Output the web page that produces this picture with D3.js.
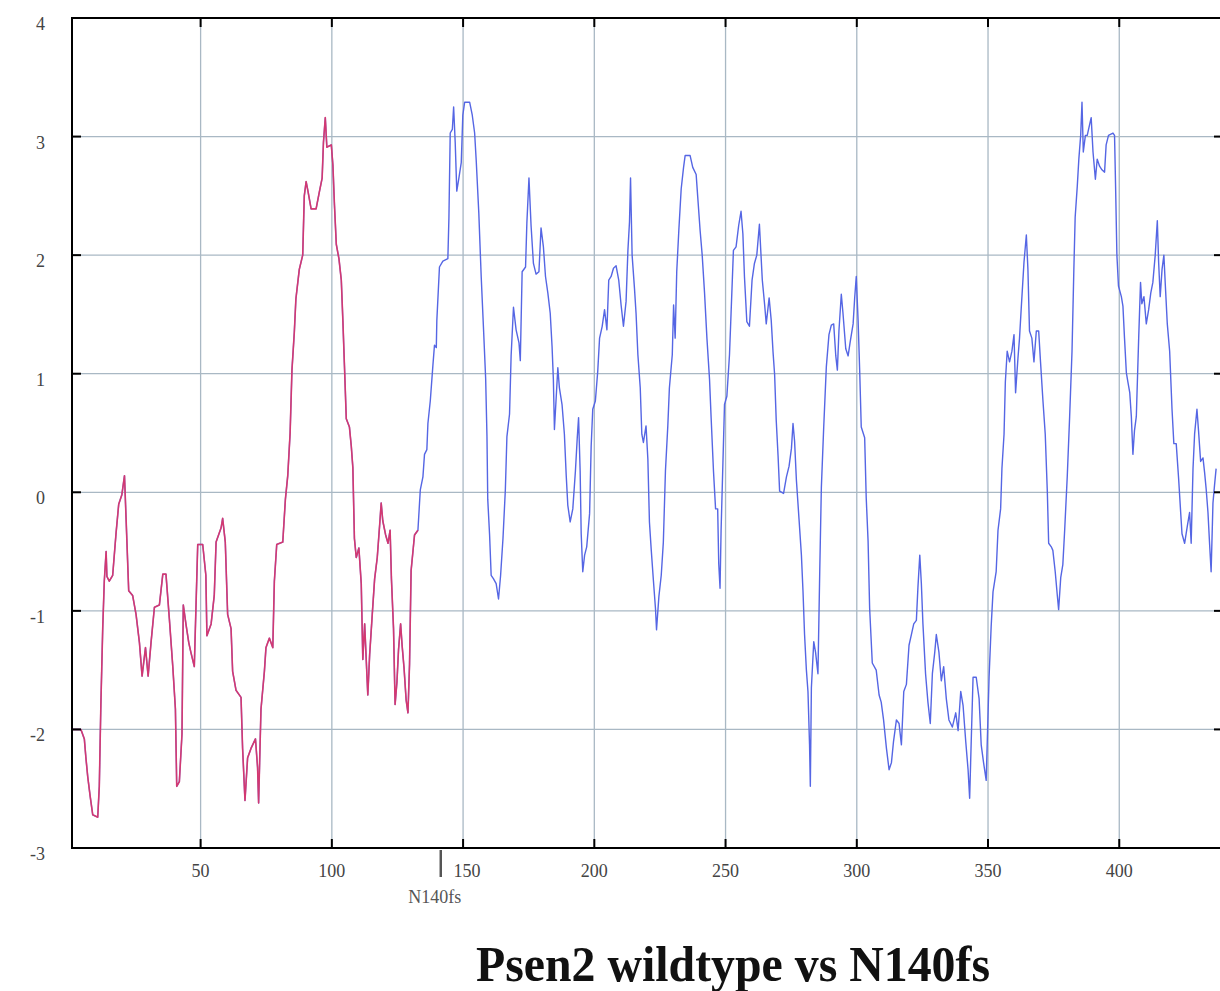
<!DOCTYPE html>
<html>
<head>
<meta charset="utf-8">
<script src="https://cdn.jsdelivr.net/npm/d3@7/dist/d3.min.js"></script>
<style>
body { margin: 0; background: #fff; }
#chart { width: 1220px; height: 991px; }
</style>
</head>
<body>
<div id="chart"></div>
<script>
// residue, hydropathy value
var wildtype = [
    [1,-2.0],[4.4,-2.0],[5.7,-2.08],[6.3,-2.24],[7,-2.4],[7.9,-2.56],[8.9,-2.72],[10.8,-2.74],[11.4,-2.48],[12,-1.79],
    [12.7,-1.15],[13.3,-0.75],[14,-0.5],[14.3,-0.71],[15.2,-0.75],[16.5,-0.7],[17.8,-0.34],[18.8,-0.1],[20,-0.02],[21,0.14],
    [21.6,-0.22],[22.6,-0.83],[24.1,-0.87],[25.4,-1.03],[26.7,-1.27],[27.7,-1.55],[29,-1.31],[30,-1.55],[31.1,-1.27],[32.4,-0.97],
    [34.3,-0.95],[35.6,-0.69],[36.8,-0.69],[38.1,-1.07],[39.4,-1.47],[40.4,-1.83],[40.9,-2.48],[41.9,-2.44],[42.9,-2.04],[43.4,-0.95],
    [44.4,-1.11],[45.5,-1.27],[46.3,-1.35],[47.6,-1.47],[48.9,-0.44],[50.8,-0.44],[52,-0.7],[52.4,-1.21],[54,-1.11],[55.2,-0.87],
    [55.9,-0.42],[57.8,-0.3],[58.4,-0.22],[59.4,-0.42],[60.3,-1.03],[61.6,-1.15],[62.2,-1.51],[63.5,-1.67],[65.4,-1.73],[66,-2.16],
    [66.9,-2.6],[67.9,-2.24],[69.2,-2.16],[70.9,-2.08],[71.7,-2.32],[72.1,-2.62],[73,-1.83],[74.3,-1.51],[74.9,-1.31],[76.2,-1.23],
    [77.5,-1.31],[78.1,-0.75],[79,-0.44],[81.3,-0.42],[82.3,-0.06],[83.2,0.14],[84.1,0.5],[84.8,1.03],[85.7,1.35],[86.3,1.63],
    [87.6,1.88],[88.9,2.0],[89.5,2.5],[90.2,2.62],[90.9,2.54],[92.1,2.39],[94,2.39],[95.3,2.54],[96.3,2.65],[96.8,2.95],
    [97.5,3.16],[98.1,2.91],[99.8,2.93],[100.4,2.76],[101,2.42],[101.7,2.09],[102.7,1.97],[103.6,1.79],[104.2,1.45],[104.8,1.07],
    [105.5,0.62],[106.7,0.55],[107.4,0.39],[108,0.21],[108.6,-0.39],[109.3,-0.55],[110.3,-0.47],[111.2,-0.77],[111.8,-1.41],[112.5,-1.11],
    [113.7,-1.71],[114.4,-1.37],[115.4,-1.03],[116.3,-0.73],[117.3,-0.55],[118.2,-0.28],[118.8,-0.09],[119.4,-0.24],[120.5,-0.36],[121.4,-0.43],
    [122.2,-0.32],[122.7,-0.73],[123.5,-1.15],[124.1,-1.79],[124.8,-1.6],[125.4,-1.33],[126.2,-1.11],[126.8,-1.3],[127.5,-1.48],[128.3,-1.75],
    [129,-1.86],[129.6,-1.45],[130.2,-0.66],[131.5,-0.36],[132.8,-0.32],[133.7,0.02],[134.7,0.13],[135.3,0.32],[136.2,0.36],[136.6,0.58],
    [137.5,0.77],[138.5,1.07],[139.1,1.24],[139.8,1.22],[140,1.45],[141,1.9],[142.3,1.95],[144.2,1.97],[144.6,2.31],[145.1,3.03],
    [145.9,3.06],[146.4,3.25],[147,2.95],[147.6,2.54],[148.4,2.65],[149.3,2.78],[149.9,3.18],[150.6,3.29],[152.5,3.29],[153.5,3.18],
    [154.4,3.03],[155,2.8],[156,2.35],[156.9,1.82],[157.8,1.37],[158.6,0.96],[159.1,0.47],[159.4,-0.06],[160.1,-0.36],[160.7,-0.7],
    [161.6,-0.73],[162.6,-0.77],[163.5,-0.9],[164.3,-0.7],[165.2,-0.39],[166.1,0.02],[166.7,0.47],[167.7,0.66],[168.3,1.15],[169.2,1.56],
    [170.2,1.37],[171.3,1.26],[171.8,1.11],[172.5,1.86],[173.8,1.9],[174.3,2.27],[175.1,2.65],[175.9,2.25],[176.8,1.93],[177.8,1.84],
    [178.9,1.86],[179.7,2.23],[180.6,2.07],[181.4,1.82],[182.3,1.68],[183.2,1.51],[183.9,1.23],[184.4,0.95],[184.8,0.53],[185.5,0.81],
    [186.1,1.05],[186.7,0.88],[187.7,0.74],[188.6,0.49],[189.3,0.14],[189.9,-0.11],[190.8,-0.25],[191.8,-0.14],[192.8,0.18],[193.5,0.46],
    [194,0.63],[194.6,0.18],[195,-0.35],[195.6,-0.67],[196.3,-0.53],[197.1,-0.46],[198.2,-0.18],[198.8,0.39],[199.4,0.7],[200.4,0.77],
    [201.3,1.02],[202,1.3],[203,1.4],[203.9,1.54],[204.8,1.37],[205.5,1.79],[206.4,1.82],[207.3,1.89],[208.3,1.91],[209.3,1.79],
    [210.2,1.58],[211.1,1.4],[212.1,1.61],[212.8,2.04],[213.4,2.28],[213.8,2.65],[214.4,2.0],[215.3,1.72],[215.9,1.51],[216.6,1.16],
    [217.5,0.88],[218.1,0.49],[218.7,0.42],[219.7,0.56],[220.4,0.28],[221,-0.25],[221.7,-0.49],[222.5,-0.74],[223.3,-0.98],[223.7,-1.16],
    [224.6,-0.88],[225.5,-0.7],[226.3,-0.42],[227.1,0.18],[228,0.56],[228.6,0.88],[229.7,1.16],[230.2,1.58],[230.8,1.3],[231.4,1.86],
    [232.2,2.21],[233.1,2.56],[234,2.74],[234.6,2.84],[236.5,2.84],[237.5,2.74],[238.8,2.68],[239.4,2.49],[240.3,2.21],[241.1,2.0],
    [242,1.68],[242.9,1.3],[243.9,0.95],[244.5,0.63],[245.4,0.18],[246.2,-0.14],[247,-0.14],[247.4,-0.6],[247.9,-0.81],[248.3,-0.32],
    [249,0.25],[249.6,0.74],[250.5,0.81],[251.5,1.16],[252.1,1.51],[253,2.04],[254,2.07],[255,2.25],[255.9,2.37],[256.6,2.18],
    [257.2,1.82],[258.1,1.44],[259.1,1.4],[260.1,1.79],[261,1.93],[261.9,2.0],[262.9,2.26],[264,1.79],[264.9,1.58],[265.5,1.42],
    [266.6,1.64],[267.4,1.45],[268.1,1.18],[268.7,0.99],[269.3,0.61],[270,0.31],[270.6,0.01],[272.1,-0.01],[273.2,0.13],[274.2,0.22],
    [275.1,0.37],[275.7,0.58],[276.3,0.43],[277,0.1],[278,-0.23],[278.9,-0.53],[279.5,-0.83],[280.1,-1.2],[280.8,-1.5],[281.4,-1.68],
    [282,-2.13],[282.3,-2.48],[282.7,-1.65],[283.6,-1.26],[284.3,-1.35],[285.2,-1.53],[285.9,-0.65],[286.5,0.04],[287.4,0.55],[288.4,1.06],
    [289.4,1.33],[290.3,1.41],[291.2,1.42],[292,1.15],[292.6,1.03],[293.2,1.36],[294.1,1.67],[294.7,1.52],[295.8,1.21],[296.7,1.15],
    [297.5,1.27],[298.6,1.42],[299.2,1.64],[299.8,1.82],[300.5,1.45],[301.1,1.03],[301.7,0.55],[303,0.46],[303.6,-0.05],[304.3,-0.41],
    [304.9,-0.98],[305.9,-1.44],[307.4,-1.5],[308.5,-1.71],[309.3,-1.77],[310.2,-1.92],[311.3,-2.16],[312.3,-2.34],[313.2,-2.28],[314,-2.1],
    [315.1,-1.92],[316.1,-1.95],[317,-2.13],[317.9,-1.68],[318.9,-1.62],[319.9,-1.29],[320.8,-1.2],[321.7,-1.11],[322.7,-1.08],[323.3,-0.8],
    [324,-0.53],[324.6,-0.77],[325.2,-1.11],[326.2,-1.53],[327.1,-1.77],[328,-1.95],[328.8,-1.53],[329.7,-1.35],[330.3,-1.2],[331.3,-1.35],
    [332.2,-1.59],[333.1,-1.47],[334.1,-1.74],[335.1,-1.92],[336.4,-1.98],[337.7,-1.86],[338.6,-2.01],[339.6,-1.68],[340.5,-1.8],[341.5,-2.1],
    [342.4,-2.34],[343,-2.58],[343.6,-2.1],[344.3,-1.56],[345.5,-1.56],[346.6,-1.74],[347.4,-2.13],[348.3,-2.28],[349.3,-2.43],[350.4,-1.56],
    [351.2,-1.13],[351.9,-0.84],[353.1,-0.67],[353.8,-0.32],[354.8,-0.14],[355.3,0.2],[356.1,0.49],[356.6,0.93],[357.3,1.19],[358.2,1.1],
    [359.1,1.19],[359.9,1.33],[360.5,0.84],[361.4,1.13],[362,1.3],[362.7,1.57],[363.7,1.94],[364.6,2.17],[365.2,1.88],[365.8,1.36],
    [366.7,1.3],[367.5,1.1],[368.4,1.36],[369.3,1.36],[370,1.1],[370.9,0.78],[371.8,0.49],[372.6,0],[373.1,-0.43],[374.1,-0.46],
    [374.7,-0.49],[375.6,-0.67],[376.4,-0.87],[376.9,-0.99],[377.7,-0.72],[378.5,-0.61],[379.2,-0.32],[380.2,0.14],[381.1,0.64],[382,1.19],
    [382.7,1.88],[383.2,2.32],[384,2.58],[384.6,2.81],[385.3,3.01],[385.8,3.29],[386.3,2.87],[387.1,3.01],[387.8,3.01],[388.7,3.1],
    [389.3,3.16],[390,2.87],[390.9,2.64],[391.6,2.81],[392.5,2.75],[393.4,2.72],[394.4,2.7],[395,2.93],[395.9,3.01],[397.6,3.03],
    [398.2,3.01],[398.6,2.58],[399.1,2.0],[399.7,1.74],[400.8,1.65],[401.4,1.57],[402,1.3],[402.7,1.01],[403.3,0.93],[404,0.84],
    [404.6,0.64],[405.2,0.32],[405.8,0.52],[406.5,0.64],[407.4,1.3],[408.1,1.77],[408.6,1.59],[409.4,1.65],[410.3,1.42],[411.2,1.54],
    [412,1.68],[412.8,1.77],[413.7,2.0],[414.5,2.29],[415,1.94],[415.6,1.65],[416.3,1.88],[417,2.0],[417.5,1.77],[418.3,1.42],
    [419.2,1.19],[420.1,0.7],[420.8,0.41],[421.7,0.41],[422.6,0.12],[423.4,-0.17],[423.9,-0.35],[424.9,-0.43],[425.9,-0.29],[426.8,-0.17],
    [427.4,-0.43],[428.1,0.2],[428.7,0.49],[429.6,0.7],[430.2,0.52],[431,0.26],[431.9,0.29],[432.5,0.17],[433.1,0.03],[433.8,-0.17],
    [434.4,-0.43],[435,-0.67],[435.7,-0.09],[436.3,0.06],[436.9,0.2]
];

// mutant trace, overlaps wildtype until the frameshift window
var n140fs = [
    [1,-2.0],[4.4,-2.0],[5.7,-2.08],[6.3,-2.24],[7,-2.4],[7.9,-2.56],[8.9,-2.72],[10.8,-2.74],[11.4,-2.48],[12,-1.79],
    [12.7,-1.15],[13.3,-0.75],[14,-0.5],[14.3,-0.71],[15.2,-0.75],[16.5,-0.7],[17.8,-0.34],[18.8,-0.1],[20,-0.02],[21,0.14],
    [21.6,-0.22],[22.6,-0.83],[24.1,-0.87],[25.4,-1.03],[26.7,-1.27],[27.7,-1.55],[29,-1.31],[30,-1.55],[31.1,-1.27],[32.4,-0.97],
    [34.3,-0.95],[35.6,-0.69],[36.8,-0.69],[38.1,-1.07],[39.4,-1.47],[40.4,-1.83],[40.9,-2.48],[41.9,-2.44],[42.9,-2.04],[43.4,-0.95],
    [44.4,-1.11],[45.5,-1.27],[46.3,-1.35],[47.6,-1.47],[48.9,-0.44],[50.8,-0.44],[52,-0.7],[52.4,-1.21],[54,-1.11],[55.2,-0.87],
    [55.9,-0.42],[57.8,-0.3],[58.4,-0.22],[59.4,-0.42],[60.3,-1.03],[61.6,-1.15],[62.2,-1.51],[63.5,-1.67],[65.4,-1.73],[66,-2.16],
    [66.9,-2.6],[67.9,-2.24],[69.2,-2.16],[70.9,-2.08],[71.7,-2.32],[72.1,-2.62],[73,-1.83],[74.3,-1.51],[74.9,-1.31],[76.2,-1.23],
    [77.5,-1.31],[78.1,-0.75],[79,-0.44],[81.3,-0.42],[82.3,-0.06],[83.2,0.14],[84.1,0.5],[84.8,1.03],[85.7,1.35],[86.3,1.63],
    [87.6,1.88],[88.9,2.0],[89.5,2.5],[90.2,2.62],[90.9,2.54],[92.1,2.39],[94,2.39],[95.3,2.54],[96.3,2.65],[96.8,2.95],
    [97.5,3.16],[98.1,2.91],[99.8,2.93],[100.4,2.76],[101,2.42],[101.7,2.09],[102.7,1.97],[103.6,1.79],[104.2,1.45],[104.8,1.07],
    [105.5,0.62],[106.7,0.55],[107.4,0.39],[108,0.21],[108.6,-0.39],[109.3,-0.55],[110.3,-0.47],[111.2,-0.77],[111.8,-1.41],[112.5,-1.11],
    [113.7,-1.71],[114.4,-1.37],[115.4,-1.03],[116.3,-0.73],[117.3,-0.55],[118.2,-0.28],[118.8,-0.09],[119.4,-0.24],[120.5,-0.36],[121.4,-0.43],
    [122.2,-0.32],[122.7,-0.73],[123.5,-1.15],[124.1,-1.79],[124.8,-1.6],[125.4,-1.33],[126.2,-1.11],[126.8,-1.3],[127.5,-1.48],[128.3,-1.75],
    [129,-1.86],[129.6,-1.45],[130.2,-0.66],[131.5,-0.36],[132.8,-0.32]
];

var xTicks = [50, 100, 150, 200, 250, 300, 350, 400];
var yTicks = [-3, -2, -1, 0, 1, 2, 3, 4];
var mutationSite = 141.5;
var mutationLabel = 'N140fs';
var title = 'Psen2 wildtype vs N140fs';

(function() {
    var width = 1220, height = 991;
    var pad = {left: 72, right: 1219, top: 18, bottom: 848};
    var serif = '"Liberation Serif", "Times New Roman", serif';

    var svg = d3.select('#chart').append('svg')
	.attr('width', width)
	.attr('height', height);

    var x = d3.scaleLinear().domain([1, 438]).range([pad.left, pad.right]);
    var y = d3.scaleLinear().domain([-3, 4]).range([pad.bottom, pad.top]);

    svg.append('defs').append('clipPath')
	.attr('id', 'plot-clip')
      .append('rect')
	.attr('x', pad.left)
	.attr('y', pad.top)
	.attr('width', width - pad.left)
	.attr('height', pad.bottom - pad.top);

    // grid
    var grid = svg.append('g').attr('class', 'grid');
    grid.selectAll('line.gx')
	.data(xTicks)
      .enter().append('line')
	.attr('class', 'gx')
	.attr('x1', function(d) { return x(d); })
	.attr('x2', function(d) { return x(d); })
	.attr('y1', pad.top)
	.attr('y2', pad.bottom)
	.attr('stroke', '#a9b8c4')
	.attr('stroke-width', 1.3);
    grid.selectAll('line.gy')
	.data(yTicks.filter(function(d) { return d > -3 && d < 4; }))
      .enter().append('line')
	.attr('class', 'gy')
	.attr('x1', pad.left)
	.attr('x2', width)
	.attr('y1', function(d) { return y(d); })
	.attr('y2', function(d) { return y(d); })
	.attr('stroke', '#a9b8c4')
	.attr('stroke-width', 1.3);

    // traces
    var line = d3.line()
	.x(function(d) { return x(d[0]); })
	.y(function(d) { return y(d[1]); });

    var traces = svg.append('g').attr('clip-path', 'url(#plot-clip)');
    traces.append('path')
	.datum(wildtype)
	.attr('d', line)
	.attr('fill', 'none')
	.attr('stroke', '#5566e4')
	.attr('stroke-width', 1.4)
	.attr('stroke-linejoin', 'round');
    traces.append('path')
	.datum(n140fs)
	.attr('d', line)
	.attr('fill', 'none')
	.attr('stroke', '#e8305e')
	.attr('stroke-opacity', 0.85)
	.attr('stroke-width', 1.6)
	.attr('stroke-linejoin', 'round');

    // frame and ticks
    var frame = svg.append('g').attr('class', 'frame');
    frame.append('path')
	.attr('d', 'M' + (width + 2) + ',' + pad.top + 'H' + pad.left + 'V' + pad.bottom + 'H' + (width + 2))
	.attr('fill', 'none')
	.attr('stroke', '#000')
	.attr('stroke-width', 2);

    var tickLen = 9;
    frame.selectAll('line.tt')
	.data(xTicks)
      .enter().append('line')
	.attr('class', 'tt')
	.attr('x1', function(d) { return x(d); })
	.attr('x2', function(d) { return x(d); })
	.attr('y1', pad.top)
	.attr('y2', pad.top + tickLen)
	.attr('stroke', '#000')
	.attr('stroke-width', 2);
    frame.selectAll('line.tb')
	.data(xTicks)
      .enter().append('line')
	.attr('class', 'tb')
	.attr('x1', function(d) { return x(d); })
	.attr('x2', function(d) { return x(d); })
	.attr('y1', pad.bottom)
	.attr('y2', pad.bottom - tickLen)
	.attr('stroke', '#000')
	.attr('stroke-width', 2);
    frame.selectAll('line.tl')
	.data(yTicks)
      .enter().append('line')
	.attr('class', 'tl')
	.attr('x1', pad.left)
	.attr('x2', pad.left + tickLen)
	.attr('y1', function(d) { return y(d); })
	.attr('y2', function(d) { return y(d); })
	.attr('stroke', '#000')
	.attr('stroke-width', 2);
    frame.selectAll('line.tr')
	.data(yTicks)
      .enter().append('line')
	.attr('class', 'tr')
	.attr('x1', width)
	.attr('x2', width - 6)
	.attr('y1', function(d) { return y(d); })
	.attr('y2', function(d) { return y(d); })
	.attr('stroke', '#000')
	.attr('stroke-width', 2);

    // tick labels
    svg.append('g').selectAll('text')
	.data(yTicks)
      .enter().append('text')
	.attr('x', 45)
	.attr('y', function(d) { return y(d) + 12; })
	.attr('text-anchor', 'end')
	.attr('font-family', serif)
	.attr('font-size', 18)
	.attr('fill', '#444')
	.text(function(d) { return d; });

    svg.append('g').selectAll('text')
	.data(xTicks)
      .enter().append('text')
	.attr('x', function(d) { return x(d) + (d === 150 ? 4 : 0); })
	.attr('y', pad.bottom + 29)
	.attr('text-anchor', 'middle')
	.attr('font-family', serif)
	.attr('font-size', 18)
	.attr('fill', '#444')
	.text(function(d) { return d; });

    // mutation marker
    svg.append('line')
	.attr('x1', x(mutationSite))
	.attr('x2', x(mutationSite))
	.attr('y1', pad.bottom + 2)
	.attr('y2', pad.bottom + 29)
	.attr('stroke', '#555')
	.attr('stroke-width', 2.5);
    svg.append('text')
	.attr('x', x(mutationSite) - 6)
	.attr('y', pad.bottom + 55)
	.attr('text-anchor', 'middle')
	.attr('font-family', serif)
	.attr('font-size', 18)
	.attr('fill', '#555')
	.text(mutationLabel);

    svg.append('text')
	.attr('x', 733)
	.attr('y', 981)
	.attr('text-anchor', 'middle')
	.attr('font-family', serif)
	.attr('font-weight', 'bold')
	.attr('font-size', 50)
	.attr('textLength', 514)
	.attr('lengthAdjust', 'spacingAndGlyphs')
	.attr('fill', '#111')
	.text(title);
})();
</script>
</body>
</html>
